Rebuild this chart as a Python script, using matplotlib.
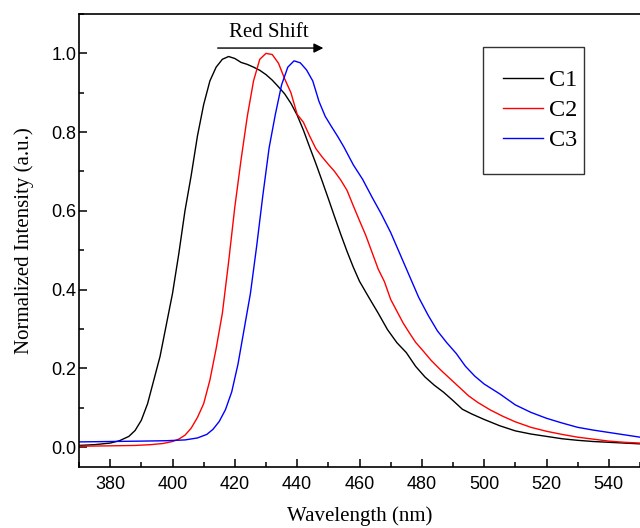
import matplotlib
matplotlib.use("Agg")
import matplotlib.pyplot as plt
from matplotlib.patches import Rectangle
from matplotlib.ticker import MultipleLocator

# ---- data ----
c1_x = [370, 375, 380, 383, 386, 388, 390, 392, 394, 396, 398, 400, 402, 404, 406, 408,
        410, 412, 414, 416, 418, 420, 422, 424, 426, 428, 430, 432, 434, 436, 438, 440,
        442, 444, 446, 448, 450, 452, 454, 456, 458, 460, 463, 466, 469, 472, 475, 478,
        481, 484, 487, 490, 493, 496, 500, 505, 510, 515, 520, 525, 530, 535, 540, 545, 550]
c1_y = [0.004, 0.006, 0.010, 0.016, 0.027, 0.042, 0.068, 0.11, 0.17, 0.23, 0.31, 0.39,
        0.49, 0.60, 0.69, 0.79, 0.87, 0.93, 0.965, 0.985, 0.992, 0.987, 0.977, 0.972,
        0.965, 0.957, 0.946, 0.932, 0.915, 0.897, 0.873, 0.843, 0.805, 0.762, 0.72, 0.676,
        0.631, 0.585, 0.54, 0.497, 0.457, 0.421, 0.38, 0.34, 0.298, 0.265, 0.24, 0.205,
        0.178, 0.157, 0.139, 0.118, 0.096, 0.084, 0.07, 0.054, 0.041, 0.033, 0.027, 0.021,
        0.017, 0.014, 0.012, 0.010, 0.008]

c2_x = [370, 380, 388, 393, 397, 400, 402, 404, 406, 408, 410, 412, 414, 416, 418, 420,
        422, 424, 426, 428, 430, 432, 434, 436, 438, 440, 442, 444, 446, 448, 450, 452,
        454, 456, 458, 460, 462, 464, 466, 468, 470, 472, 474, 476, 478, 480, 483, 486,
        489, 492, 495, 498, 502, 506, 510, 515, 520, 525, 530, 535, 540, 545, 550]
c2_y = [0.002, 0.003, 0.004, 0.006, 0.009, 0.014, 0.02, 0.03, 0.048, 0.075, 0.11, 0.17,
        0.25, 0.34, 0.47, 0.61, 0.73, 0.84, 0.93, 0.985, 1.0, 0.997, 0.975, 0.935, 0.90,
        0.845, 0.825, 0.79, 0.758, 0.737, 0.718, 0.70, 0.678, 0.652, 0.613, 0.575, 0.538,
        0.495, 0.452, 0.42, 0.375, 0.345, 0.315, 0.29, 0.266, 0.248, 0.22, 0.196, 0.174,
        0.152, 0.13, 0.113, 0.094, 0.078, 0.064, 0.05, 0.04, 0.032, 0.025, 0.02, 0.015,
        0.012, 0.010]

c3_x = [370, 380, 390, 398, 404, 408, 411, 413, 415, 417, 419, 421, 423, 425, 427, 429,
        431, 433, 435, 437, 439, 441, 443, 445, 447, 449, 451, 453, 455, 458, 461, 464,
        467, 470, 473, 476, 479, 482, 485, 488, 491, 494, 497, 500, 505, 510, 515, 520,
        525, 530, 535, 540, 545, 550]
c3_y = [0.013, 0.014, 0.015, 0.016, 0.018, 0.023, 0.032, 0.045, 0.065, 0.095, 0.14, 0.21,
        0.30, 0.39, 0.51, 0.64, 0.76, 0.845, 0.92, 0.965, 0.981, 0.976, 0.958, 0.93, 0.878,
        0.84, 0.814, 0.789, 0.762, 0.717, 0.68, 0.635, 0.592, 0.545, 0.49, 0.435, 0.38,
        0.335, 0.295, 0.265, 0.238, 0.205, 0.18, 0.16, 0.135, 0.107, 0.088, 0.073, 0.061,
        0.05, 0.043, 0.037, 0.031, 0.025]

labels = ["C1", "C2", "C3"]
colors = ["black", "red", "blue"]

serif = ["Liberation Serif", "DejaVu Serif"]
sans = ["Liberation Sans", "DejaVu Sans"]

fig = plt.figure(figsize=(6.4, 5.28), dpi=100)
ax = fig.add_axes([79 / 640, 1 - 466.7 / 528, 561 / 640, (466.7 - 14) / 528])

for xs, ys, lab, col in zip([c1_x, c2_x, c3_x], [c1_y, c2_y, c3_y], labels, colors):
    ax.plot(xs, ys, color=col, lw=1.0, label=lab)

ax.set_xlim(370, 550)
ax.set_ylim(-0.05, 1.1)
ax.xaxis.set_major_locator(MultipleLocator(20))
ax.xaxis.set_minor_locator(MultipleLocator(10))
ax.yaxis.set_major_locator(MultipleLocator(0.2))
ax.yaxis.set_minor_locator(MultipleLocator(0.1))
ax.tick_params(which="both", direction="in", top=False, right=False, width=1.1)
ax.tick_params(which="major", length=6)
ax.tick_params(which="minor", length=3.8)
ax.tick_params(axis="x", which="major", pad=6.5)
ax.tick_params(axis="y", which="major", pad=2)
for lbl in ax.get_xticklabels() + ax.get_yticklabels():
    lbl.set_fontfamily(sans)
    lbl.set_fontsize(13)
ax.xaxis.set_major_formatter(matplotlib.ticker.FormatStrFormatter("%d"))
ax.yaxis.set_major_formatter(matplotlib.ticker.FormatStrFormatter("%.1f"))

for s in ["left", "bottom", "top"]:
    ax.spines[s].set_linewidth(1.2)
ax.spines["right"].set_visible(False)

ax.set_xlabel("Wavelength (nm)", family=serif, fontsize=15, labelpad=9.5)
ax.set_ylabel("Normalized Intensity (a.u.)", family=serif, fontsize=15, labelpad=12)

# Red shift arrow and label
ax.annotate("", xy=(448.4, 1.0135), xytext=(414.5, 1.0135),
            arrowprops=dict(arrowstyle="-|>", color="black", lw=1.0,
                            mutation_scale=14, shrinkA=0, shrinkB=0))
ax.text(430.8, 1.054, "Red Shift", family=serif, fontsize=15, ha="center", va="center")

# Legend
leg = ax.legend(loc="upper left", bbox_to_anchor=(0.7558, 0.878), frameon=False,
                prop={"family": serif, "size": 17.5}, handlelength=1.65,
                handletextpad=0.25, labelspacing=0.33, borderpad=0, borderaxespad=0)
ax.add_patch(Rectangle((0.720, 0.647), 0.180, 0.280, transform=ax.transAxes,
                       fill=False, edgecolor="#333333", lw=1.0))

fig.savefig("out.png", dpi=100)
